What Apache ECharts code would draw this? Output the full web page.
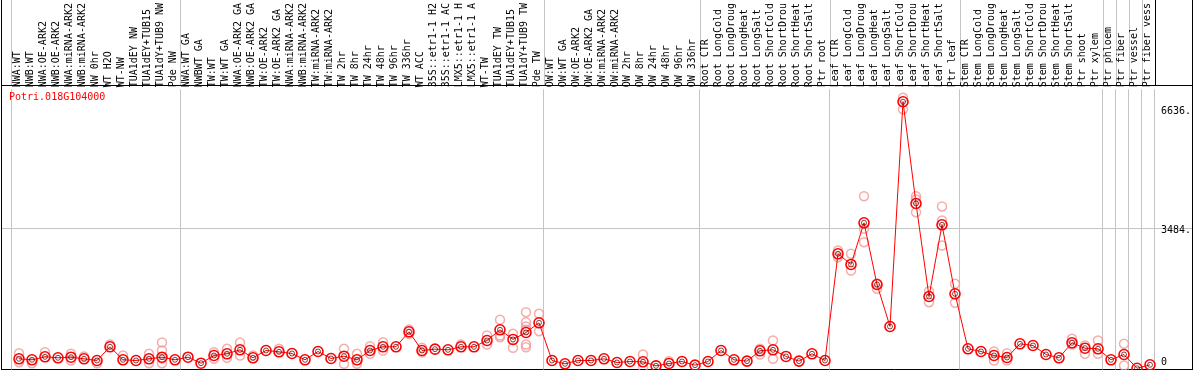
<!DOCTYPE html>
<html><head><meta charset="utf-8">
<script src="https://cdn.jsdelivr.net/npm/echarts@6/dist/echarts.min.js"></script>
<style>html,body{margin:0;padding:0;background:#fff}#c{width:1194px;height:370px}</style>
</head><body><div id="c"></div>
<script>
const geneId = 'Potri.018G104000';
const categories = [
  'NWA:WT','NWB:WT','NWA:OE-ARK2','NWB:OE-ARK2','NWA:miRNA-ARK2','NWB:miRNA-ARK2','NW 0hr','WT H2O','WT-NW','TUA1dEY NW','TUA1dEY+TUB15','TUA1dY+TUB9 NW','Pde NW',
  'NWA:WT GA','NWBWT GA','TW:WT','TW:WT GA','NWA:OE-ARK2 GA','NWB:OE-ARK2 GA','TW:OE-ARK2','TW:OE-ARK2 GA','NWA:miRNA-ARK2','NWB:miRNA-ARK2','TW:miRNA-ARK2','TW:miRNA-ARK2','TW 2hr','TW 8hr','TW 24hr','TW 48hr','TW 96hr','TW 336hr','WT ACC','35S::etr1-1 H2','35S::etr1-1 AC','LMX5::etr1-1 H','LMX5::etr1-1 A','WT-TW','TUA1dEY TW','TUA1dEY+TUB15','TUA1dY+TUB9 TW','Pde TW',
  'OW:WT','OW:WT GA','OW:OE-ARK2','OW:OE-ARK2 GA','OW:miRNA-ARK2','OW:miRNA-ARK2','OW 2hr','OW 8hr','OW 24hr','OW 48hr','OW 96hr','OW 336hr',
  'Root CTR','Root LongCold','Root LongDroug','Root LongHeat','Root LongSalt','Root ShortCold','Root ShortDrou','Root ShortHeat','Root ShortSalt','Ptr root',
  'Leaf CTR','Leaf LongCold','Leaf LongDroug','Leaf LongHeat','Leaf LongSalt','Leaf ShortCold','Leaf ShortDrou','Leaf ShortHeat','Leaf ShortSalt','Ptr leaf',
  'Stem CTR','Stem LongCold','Stem LongDroug','Stem LongHeat','Stem LongSalt','Stem ShortCold','Stem ShortDrou','Stem ShortHeat','Stem ShortSalt','Ptr shoot','Ptr xylem',
  'Ptr phloem','Ptr fiber','Ptr vessel','Ptr fiber vess'
];
const meanValues = [
  241,216,291,266,281,241,199,540,216,199,241,281,216,
  281,132,323,366,465,266,448,415,373,216,423,249,306,216,448,540,540,913,448,481,465,540,540,697,962,722,896,1137,
  199,117,199,199,241,149,174,166,66,124,174,83,
  174,448,216,183,440,465,299,183,366,199,
  2853,2588,3625,2090,1045,6636,4105,1791,3575,1858,
  490,423,323,274,614,572,348,266,639,505,490,
  216,348,5,92
];
const replicates = [
  [381,157],[132],[406],[],[366,199],[299],[132],[597],[323],[],[366,132],[647,448,132,249],[],
  [],[],[406,241],[490,266],[647,323],[323],[],[490],[],[],[],[],[490,117],[366,117],[555,366],[654,448],[],[970,863],[515,406],[],[],[597],[],[821,597],[1212,821,779],[863,515],[1401,1152,1045,963,597,530],[1361,928],
  [],[],[],[],[],[],[],[348,32],[],[182],[],[],
  [],[],[],[],[490,348],[697,241],[],[],[],[],
  [2936,2769],[2854,2438],[4287,3476,3142],[1983,2115],[],[6735,6451],[4287,4205,3889],[1923,1650],[4031,3682,3060],[2107,1635],
  [],[],[423,199],[381,199],[],[],[],[],[739,597],[572,366],[697,366],
  [],[615,75],[],[]
];
const groupStarts = [0,13,41,53,63,73,84,85,86,87];
const yTickValues = [0,3484,6636];
const yGridValues = [3484];
const yMin = -25, yMax = 7040;

const FONT = 'DejaVu Sans Mono';
const GREY = '#c4c4c4';
const splitFn = (i) => groupStarts.indexOf(i) >= 0;
const repData = [];
replicates.forEach((arr, i) => arr.forEach(v => repData.push([i, v])));
const labelLineColors = groupStarts.map(() => GREY).concat(['#000']);

const chart = echarts.init(document.getElementById('c'), null, {renderer: 'canvas'});
chart.setOption({
  animation: false,
  backgroundColor: '#fff',
  title: {
    text: geneId, left: 9, top: 92, padding: 0,
    textStyle: {color: '#ff0000', fontSize: 10, fontWeight: 'normal', fontFamily: FONT}
  },
  grid: [
    {left: 11, right: 39, top: 85.5, bottom: 0.5},
    {left: 11, right: 39, top: 0, height: 85},
    {left: 1.5, right: 1.5, top: 85.5, bottom: 0.5, show: true, borderColor: '#000', borderWidth: 1, backgroundColor: 'transparent'},
    {left: 12.5, right: 37.5, top: 85.5, bottom: 0.5},
    {left: 1.5, right: 1.5, top: 0, bottom: 0.5}
  ],
  xAxis: [
    {gridIndex: 0, type: 'category', data: categories, position: 'top', boundaryGap: true,
     axisLine: {show: false}, axisTick: {show: false},
     axisLabel: {rotate: 90, interval: 0, margin: 2, fontFamily: FONT, fontSize: 10, color: '#000'},
     splitLine: {show: true, interval: splitFn, lineStyle: {color: GREY, width: 1}}},
    {gridIndex: 1, type: 'category', data: categories, boundaryGap: true,
     axisLine: {show: false}, axisTick: {show: false}, axisLabel: {show: false},
     splitLine: {show: true, interval: splitFn, lineStyle: {color: labelLineColors, width: 1}}},
    {gridIndex: 2, type: 'value', min: 0, max: 1, show: false},
    {gridIndex: 3, type: 'category', data: categories, boundaryGap: true, show: false},
    {gridIndex: 4, type: 'value', min: 0, max: 1, show: false}
  ],
  yAxis: [
    {gridIndex: 0, type: 'value', min: yMin, max: yMax, position: 'right',
     axisLine: {show: false}, axisTick: {show: false, customValues: yTickValues}, splitLine: {show: false},
     axisLabel: {show: true, customValues: yTickValues, margin: 7, fontFamily: FONT, fontSize: 10, color: '#000',
       formatter: (v) => {
         const s = v === 0 ? '0' : v + '.';
         const key = v === yTickValues[2] ? 'hi' : (v === 0 ? 'lo' : 'mid');
         return '{' + key + '|' + s + '}';
       },
       rich: {
         hi: {padding: [13, 0, 0, 0], fontFamily: FONT, fontSize: 10, color: '#000'},
         mid: {padding: [1, 0, 0, 0], fontFamily: FONT, fontSize: 10, color: '#000'},
         lo: {padding: [0, 0, 13, 0], fontFamily: FONT, fontSize: 10, color: '#000'}
       }}},
    {gridIndex: 1, type: 'value', min: 0, max: 1, show: false},
    {gridIndex: 2, type: 'value', min: yMin, max: yMax,
     axisLine: {show: false}, axisTick: {show: false, customValues: yGridValues}, axisLabel: {show: false},
     splitLine: {show: true, lineStyle: {color: GREY, width: 1}}},
    {gridIndex: 3, type: 'value', min: yMin, max: yMax, show: false},
    {gridIndex: 4, type: 'value', min: 0, max: 1, position: 'left',
     axisLine: {show: true, lineStyle: {color: '#000', width: 1}}, axisTick: {show: false}, axisLabel: {show: false}, splitLine: {show: false}},
    {gridIndex: 4, type: 'value', min: 0, max: 1, position: 'right',
     axisLine: {show: true, lineStyle: {color: '#000', width: 1}}, axisTick: {show: false}, axisLabel: {show: false}, splitLine: {show: false}}
  ],
  series: [
    {type: 'scatter', xAxisIndex: 3, yAxisIndex: 3, data: repData, z: 2,
     symbol: 'circle', symbolSize: 9,
     itemStyle: {color: 'transparent', borderColor: '#f09a9a', borderWidth: 1.5}},
    {type: 'line', xAxisIndex: 3, yAxisIndex: 3, data: meanValues, z: 3,
     symbol: 'circle', symbolSize: 10, showAllSymbol: true,
     lineStyle: {color: '#ff0000', width: 1},
     itemStyle: {color: 'transparent', borderColor: '#ff0000', borderWidth: 1.6}},
    {type: 'scatter', xAxisIndex: 3, yAxisIndex: 3, data: meanValues, z: 4,
     symbol: 'circle', symbolSize: 5,
     itemStyle: {color: 'transparent', borderColor: '#500000', borderWidth: 0.9}}
  ]
});
</script>
</body></html>
